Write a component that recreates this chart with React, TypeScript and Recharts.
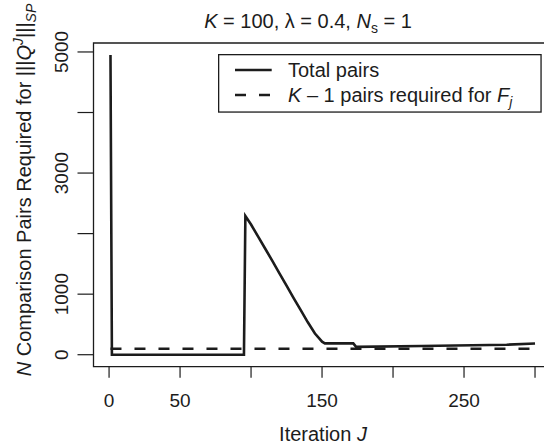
import React from 'react';
import { LineChart, Line, XAxis, YAxis, ReferenceArea, Legend } from 'recharts';

// ---- data ----
const iterations = [1, 2, 95, 96, 100, 105, 110, 115, 120, 125, 130, 135, 140, 145, 148, 150, 152, 172, 174, 220, 280, 300];
const totalPairs = [4950, 0, 0, 2290, 2150, 1950, 1750, 1550, 1345, 1140, 935, 735, 535, 350, 270, 215, 188, 188, 130, 145, 165, 185];
const requiredIterations = [1, 300];
const requiredPairs = [99, 99];

const xTicks = [0, 50, 100, 150, 200, 250, 300];
const xTickLabels = ['0', '50', '', '150', '', '250', ''];
const yTicks = [0, 1000, 2000, 3000, 4000, 5000];
const yTickLabels = ['0', '1000', '', '3000', '', '5000'];

const seriesNames = ['Total pairs', 'K \u2013 1 pairs required for Fj'];

const totalData = iterations.map((x, i) => ({ x, y: totalPairs[i] }));
const requiredData = requiredIterations.map((x, i) => ({ x, y: requiredPairs[i] }));

const X_DOMAIN: [number, number] = [-10.96, 311.96];
const Y_DOMAIN: [number, number] = [-198, 5148];

const FONT = '"Liberation Sans", Arial, Helvetica, sans-serif';
const INK = '#1c1c1c';

const XTick = (props: any) => {
  const { x, y, payload } = props;
  const idx = xTicks.indexOf(payload.value);
  const label = idx >= 0 ? xTickLabels[idx] : '';
  return (
    <text x={x} y={y} dy="0.71em" textAnchor="middle" fontSize={19} fontFamily={FONT} fill={INK}>
      {label}
    </text>
  );
};

const YTick = (props: any) => {
  const { x, y, payload } = props;
  const idx = yTicks.indexOf(payload.value);
  const label = idx >= 0 ? yTickLabels[idx] : '';
  return (
    <text x={x} y={y} transform={`rotate(-90, ${x}, ${y})`} textAnchor="middle" fontSize={19} fontFamily={FONT} fill={INK}>
      {label}
    </text>
  );
};

const XLabel = () => (
  <text x={323} y={441} textAnchor="middle" fontSize={20} fontFamily={FONT} fill={INK}>
    <tspan>Iteration </tspan>
    <tspan fontStyle="italic">J</tspan>
  </text>
);

const YLabel = () => (
  <text x={30.5} y={190} transform="rotate(-90, 30.5, 190)" textAnchor="middle" fontSize={20} fontFamily={FONT} fill={INK}>
    <tspan fontStyle="italic">N</tspan>
    <tspan> Comparison Pairs Required for |||</tspan>
    <tspan fontStyle="italic">Q</tspan>
    <tspan fontStyle="italic" fontSize={14} dy={-8}>J</tspan>
    <tspan dy={8}>|||</tspan>
    <tspan fontStyle="italic" fontSize={14} dy={5}>SP</tspan>
  </text>
);

const Title = () => (
  <text x={308} y={28} textAnchor="middle" fontSize={20} fontFamily={FONT} fill={INK}>
    <tspan fontStyle="italic">K</tspan>
    <tspan> = 100, {'\u03bb'} = 0.4, </tspan>
    <tspan fontStyle="italic">N</tspan>
    <tspan fontSize={14} dy={5}>s</tspan>
    <tspan dy={-5}> = 1</tspan>
  </text>
);

const renderLegend = () => (
  <svg width={326} height={60} style={{ display: 'block', overflow: 'visible' }}>
    <rect x={0.65} y={0.65} width={322.4} height={57.4} fill="#fff" stroke={INK} strokeWidth={1.3} />
    <line x1={17} y1={16} x2={53.7} y2={16} stroke={INK} strokeWidth={2.6} />
    <text x={70} y={22.7} fontSize={20} fontFamily={FONT} fill={INK}>{seriesNames[0]}</text>
    <line x1={17} y1={41} x2={53.7} y2={41} stroke={INK} strokeWidth={2.6} strokeDasharray="11 13" />
    <text x={70} y={47.7} fontSize={20} fontFamily={FONT} fill={INK}>
      <tspan fontStyle="italic">K</tspan>
      <tspan> {'\u2013'} 1 pairs required for </tspan>
      <tspan fontStyle="italic">F</tspan>
      <tspan fontStyle="italic" fontSize={14} dy={5}>j</tspan>
    </text>
  </svg>
);

export default function App() {
  return (
    <div style={{ position: 'absolute', left: 0, top: 0, width: 544, height: 446, overflow: 'hidden', background: '#fff' }}>
      <LineChart
        width={556}
        height={446}
        margin={{ top: 43, right: 4, bottom: 0, left: 0 }}
        style={{ fontFamily: FONT }}
      >
        <XAxis
          type="number"
          dataKey="x"
          domain={X_DOMAIN}
          ticks={xTicks}
          interval={0}
          allowDataOverflow
          axisLine={false}
          tickLine={{ stroke: INK, strokeWidth: 1.2 }}
          tickSize={11}
          tickMargin={16}
          tick={<XTick />}
          height={79.3}
          label={{ content: <XLabel /> }}
        />
        <YAxis
          type="number"
          dataKey="y"
          domain={Y_DOMAIN}
          ticks={yTicks}
          interval={0}
          allowDataOverflow
          axisLine={false}
          tickLine={{ stroke: INK, strokeWidth: 1.2 }}
          tickSize={16}
          tickMargin={9.5}
          tick={<YTick />}
          width={93.5}
          label={{ content: <YLabel /> }}
        />
        <ReferenceArea
          x1={X_DOMAIN[0]}
          x2={X_DOMAIN[1]}
          y1={Y_DOMAIN[0]}
          y2={Y_DOMAIN[1]}
          fill="none"
          fillOpacity={0}
          stroke={INK}
          strokeWidth={1.3}
          ifOverflow="visible"
          label={{ content: <Title /> }}
        />
        <Line
          data={requiredData}
          dataKey="y"
          name={seriesNames[1]}
          type="linear"
          stroke={INK}
          strokeWidth={2.6}
          strokeDasharray="11 13"
          dot={false}
          activeDot={false}
          isAnimationActive={false}
        />
        <Line
          data={totalData}
          dataKey="y"
          name={seriesNames[0]}
          type="linear"
          stroke={INK}
          strokeWidth={2.6}
          strokeLinejoin="miter"
          dot={false}
          activeDot={false}
          isAnimationActive={false}
        />
        <Legend
          verticalAlign="middle"
          align="center"
          layout="horizontal"
          content={renderLegend}
          wrapperStyle={{ left: 218, top: 54, width: 326, height: 60, margin: 0, padding: 0, lineHeight: 0 }}
        />
      </LineChart>
    </div>
  );
}
